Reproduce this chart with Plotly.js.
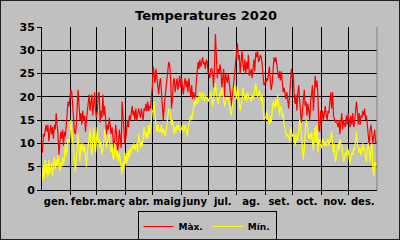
<!DOCTYPE html>
<html><head><meta charset="utf-8">
<script src="https://cdn.plot.ly/plotly-3.0.1.min.js"></script>
<style>
html,body{margin:0;padding:0;background:#c0c0c0;overflow:hidden}
#chart{width:400px;height:240px;position:absolute;left:0;top:0}
#frame{position:absolute;left:0;top:0;width:400px;height:240px;box-sizing:border-box;border:1px solid #202020;pointer-events:none}
</style></head><body>
<div id="chart"></div><div id="frame"></div>
<script>
const monthLabels = ['gen.','febr.','març','abr.','maig','juny','jul.','ag.','set.','oct.','nov.','des.'];
const monthDays = [31,29,31,30,31,30,31,31,30,31,30,31];

const maxGen = [8,12,11.5,13,14,12.5,14,10.5,13,14,12,13.5,11,14,13,16.5,14,12,7.5,10,12.5,11,13,9.5,12.5,11.5,14,17,19,18,20.5];
const maxFebr = [21.5,21,18,15,12.5,12,14,18,21.5,18,15,16.5,14,17,15,16,12.5,15,17,19.5,20.5,17,19,20.5,16,18,21,17,15.5];
const maxMarc = [17,20.5,21,14.5,17,15.5,20.5,16,18,15,12,14,13,15.5,14,12,13.5,10,9,11,14,12,7.5,10,13,11,9,19,15,11,10];
const maxAbr = [11,14,15,13.5,16,15,17,18,16,17,15,17.5,15,16,17.5,16.5,15.5,17.5,16,15,17.5,17,18.5,17,19,17,18,17.5,20,22];
const maxMaig = [26.5,25,23,26,24,21.5,20.5,23,24,21,17,15,18,20,22,24.5,26,27.5,27,24,17.5,19.5,23.5,24,21,23,24,21.5,23,24.5,22];
const maxJuny = [24,22,20.5,23,24,22,23.5,21,24,22,20,22.5,19.5,21,20,19.5,23,26,27.5,26,28,26.5,27.5,28.5,27,27.5,26,28,27.5,25];
const maxJul = [25,24,26,26,25,22,27,33.5,29,24,26,25,27,25.5,22,24,26,20,25,24,23,25,23.5,21,19.5,18,21,23,25,27,29];
const maxAg = [31.5,28,29,25,27,30,27,25.5,28,25,27.5,26,29,24.5,25,26,24,27,28,25.5,29.5,28.5,30,27.5,28,29,28.5,27,24.5,22.5,23];
const maxSet = [23,24,23.5,25,26.5,23,21.5,23,26,28.5,27.5,28.5,27,25,24,25.5,23.5,25.5,23,21,22,20,19.5,21,18.5,17.5,20,24,26,24];
const maxOct = [25,20.5,18.5,20.5,17,21,22.5,19,16,14.5,17,20,21.5,18,19,16,18.5,17,15,19,20.5,22.5,17,21,24.5,22,23.5,20,13,12.5,17];
const maxNov = [15,17,15,16.5,18,16,15,17,16.5,19,21,17.5,21,16,15,14.5,15,14,13.5,15,12,14.5,16.5,13,15,14,13.5,16,14,16.5];
const maxDes = [15,13.5,16,14,16.5,13.5,14.5,17,19,17,14,16.5,14,16,15.5,17,16,17.5,15,16,14,11,9.5,13,14,12,10,11.5,13,10,10.5];

const minGen = [2,5.5,2.5,6.5,3.5,5.5,2.8,6.5,3.5,5,6,3,5,7,4.5,6.5,5,7.5,5,4,6,5,7,5.5,7,10,7.5,9,11,10,11.5];
const minFebr = [15,12.5,10,7,5,4,7,9,12,9,6,10,8.5,10,8,9.5,6,5,8,9.5,11,13,9,7.5,11,13.5,10,8,11];
const minMarc = [13.5,10,11,9,10.5,7.5,9,10,13,11,9,10.5,11.5,12,9,8,10,7,6.5,10,9,7,8.5,6,8,6,5,3.5,6,4.5,8];
const minAbr = [5.5,8,6,8.5,7,9,8,9.5,9,10,8.5,9.5,10,8,12,10.5,9,10.5,9.5,11,13.5,12,11,12.5,11,14,12,13,15.5,17];
const minMaig = [17,19,16,14,12.5,14,12.5,13,12.5,14,12,13,12.5,11.5,12.5,14,16,17.5,17,16,14,15,13.5,12,13.5,12.5,14,13,14,12.5,13];
const minJuny = [13,14,12.5,13,14,13,11.5,13,14,15.5,16,15,16.5,17.5,19,18,20,18.5,19,20,21,20,19.5,21,20,19,20.5,19.5,20,19];
const minJul = [19.5,20,21,19.5,18,19.5,21,23,21,20,18.5,20,21,20,22,21,19.5,18,19,20,19.5,20,18.5,17,16,17,18.5,20.5,22.5,21,19.5];
const minAg = [22.5,21,19.5,17,18.5,19,22,21,19.5,20.5,19,21,20,19.5,20,19,20.5,19.5,20,21.5,23,21,20,20.5,21.5,20,19,20.5,17,15,15.5];
const minSet = [15.5,17,16,15,14,16,14.5,17,19,18.5,17.5,19.5,18,20.5,17,16,18,17.5,15.5,16.5,14,13,12,11.5,12,11,10.5,13.5,12,11.5];
const minOct = [12,11.5,9.5,12,10.5,11,13,15,14,12,10,6.5,9,13,15,14.5,13,11,12,11,12.5,10.5,8.5,11.5,13.5,10,14,8,11,10,9.5];
const minNov = [9,11,10,9.5,10.5,9.5,10,11,9.5,10.5,11,12.5,9.5,8,10,6,7,9,10,8.5,11,10,9.5,8,6,7,8,7.5,9,8.5];
const minDes = [7,5.5,7,8,7.5,9,8.5,10,12.5,10,9,8,9,7.5,8.5,10,8.5,9,7,6,9,10,8,6,9,10,4.5,3,6,5,6];

const maxMonths = [maxGen,maxFebr,maxMarc,maxAbr,maxMaig,maxJuny,maxJul,maxAg,maxSet,maxOct,maxNov,maxDes];
const minMonths = [minGen,minFebr,minMarc,minAbr,minMaig,minJuny,minJul,minAg,minSet,minOct,minNov,minDes];

const starts = [];
let acc = 0;
monthDays.forEach(d => { starts.push(acc); acc += d; });
const totalDays = acc;
function series(months) {
  const xs = [], ys = [];
  months.forEach((arr, m) => arr.forEach((v, i) => { xs.push(starts[m] + i + 0.5); ys.push(v); }));
  return {xs, ys};
}
const smax = series(maxMonths), smin = series(minMonths);
const mids = starts.map((s, m) => s + monthDays[m] / 2);
const bounds = starts.slice(1);

const F = 'DejaVu Sans, Verdana, sans-serif';
const traces = [
  {x: smax.xs, y: smax.ys, type: 'scatter', mode: 'lines', name: 'Màx.',
   line: {color: '#ff0000', width: 1.2}, hoverinfo: 'skip'},
  {x: smin.xs, y: smin.ys, type: 'scatter', mode: 'lines', name: 'Mín.',
   line: {color: '#ffff00', width: 1.2}, hoverinfo: 'skip'}
];
const layout = {
  width: 400, height: 240,
  paper_bgcolor: '#c0c0c0', plot_bgcolor: '#c0c0c0',
  margin: {l: 42, r: 23, t: 27, b: 50, pad: 0, autoexpand: false},
  showlegend: true,
  title: {text: 'Temperatures 2020', font: {family: F, size: 13, color: '#000', weight: 700},
          x: 0.515, xref: 'container', xanchor: 'center', y: 1 - 15/240, yref: 'container', yanchor: 'middle'},
  xaxis: {
    range: [0, totalDays], tickmode: 'array', tickvals: mids, ticktext: monthLabels,
    ticks: '', showgrid: false, zeroline: false, showline: true, linecolor: '#000', linewidth: 1,
    tickangle: 0, automargin: false, ticklabelstandoff: 2,
    tickfont: {family: F, size: 10, color: '#000', weight: 700},
    minor: {tickmode: 'array', tickvals: bounds, ticks: 'outside', ticklen: 4, tickcolor: '#000',
            showgrid: true, gridcolor: '#000', gridwidth: 1},
    fixedrange: true
  },
  yaxis: {
    range: [0, 35], tickmode: 'linear', tick0: 0, dtick: 5,
    ticks: 'outside', ticklen: 4, tickcolor: '#000', automargin: false,
    showgrid: true, gridcolor: '#000', gridwidth: 1, zeroline: false,
    showline: true, linecolor: '#000', linewidth: 1,
    tickfont: {family: F, size: 11, color: '#000', weight: 700}, fixedrange: true
  },
  legend: {orientation: 'h', xref: 'container', x: 207/400, xanchor: 'center',
           yref: 'container', y: 1 - 211/240, yanchor: 'top',
           bordercolor: '#000', borderwidth: 1, bgcolor: 'rgba(0,0,0,0)',
           font: {family: F, size: 9, color: '#000', weight: 700}, itemwidth: 30},
  shapes: [{type: 'line', xref: 'paper', yref: 'paper', x0: 1, x1: 1, y0: 0, y1: 1,
            line: {color: '#808080', width: 1}}]
};
Plotly.newPlot('chart', traces, layout, {staticPlot: true, displayModeBar: false});
</script>
</body></html>
